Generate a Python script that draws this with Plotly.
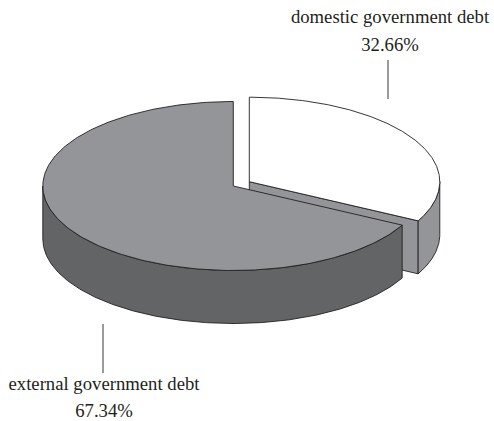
import numpy as np
import plotly.graph_objects as go

labels = ["domestic government debt", "external government debt"]
shares = [32.66, 67.34]
top_colors = ["#ffffff", "#939598"]
side_colors = ["#939598", "#636466"]

# projection of the tilted disc, in picture units
RX, RY, DEPTH = 190.5, 84.5, 53
APEX = [(249.3, 181.7), (233.3, 186.0)]
EDGE = "#231f20"
W, H = 494, 421

fig = go.Figure()


def rim(apex, a0, a1, drop=0.0):
    t = np.radians(np.linspace(a0, a1, 240))
    return apex[0] + RX * np.sin(t), apex[1] - RY * np.cos(t) + drop


def poly(x, y, fill):
    fig.add_trace(go.Scatter(
        x=list(x) + [x[0]], y=list(y) + [y[0]], mode="lines", fill="toself",
        fillcolor=fill, line=dict(color=EDGE, width=0.9), hoverinfo="skip",
        showlegend=False,
    ))


split = shares[0] / sum(shares) * 360

# domestic slice (pulled out)
ax, ay = APEX[0]
ex, ey = rim(APEX[0], split, split)
poly([ax, ex[0], ex[0], ax], [ay, ey[0], ey[0] + DEPTH, ay + DEPTH], side_colors[0])
tx, ty = rim(APEX[0], 90, split)
bx, by = rim(APEX[0], split, 90, DEPTH)
poly(np.r_[tx, bx], np.r_[ty, by], side_colors[0])
tx, ty = rim(APEX[0], 0, split)
poly(np.r_[ax, tx], np.r_[ay, ty], top_colors[0])

# external slice
tx, ty = rim(APEX[1], split, 270)
bx, by = rim(APEX[1], 270, split, DEPTH)
poly(np.r_[tx, bx], np.r_[ty, by], side_colors[1])
tx, ty = rim(APEX[1], split, 360)
poly(np.r_[APEX[1][0], tx], np.r_[APEX[1][1], ty], top_colors[1])

# leader lines and labels
leaders = [([388, 388], [60, 99]), ([103, 103], [324, 373])]
for lx, ly in leaders:
    fig.add_trace(go.Scatter(x=lx, y=ly, mode="lines", hoverinfo="skip", showlegend=False,
                             line=dict(color=EDGE, width=0.9)))

text_pos = [(390, 18, 46), (104, 385, 412)]
for lab, val, (x, y1, y2) in zip(labels, shares, text_pos):
    fig.add_trace(go.Scatter(
        x=[x, x], y=[y1, y2], mode="text", text=[lab, f"{val:.2f}%"],
        textposition="middle center", hoverinfo="skip", showlegend=False,
        textfont=dict(family="Liberation Serif", size=18.7, color=EDGE),
    ))

fig.update_layout(
    width=W, height=H, margin=dict(l=0, r=0, t=0, b=0),
    paper_bgcolor="white", plot_bgcolor="white",
    xaxis=dict(range=[0, W], visible=False, fixedrange=True),
    yaxis=dict(range=[H, 0], visible=False, fixedrange=True),
)
fig.write_html(
    "out.html",
    config={"displayModeBar": False},
    post_script="document.body.style.margin='0';document.documentElement.style.overflow='hidden';",
)
